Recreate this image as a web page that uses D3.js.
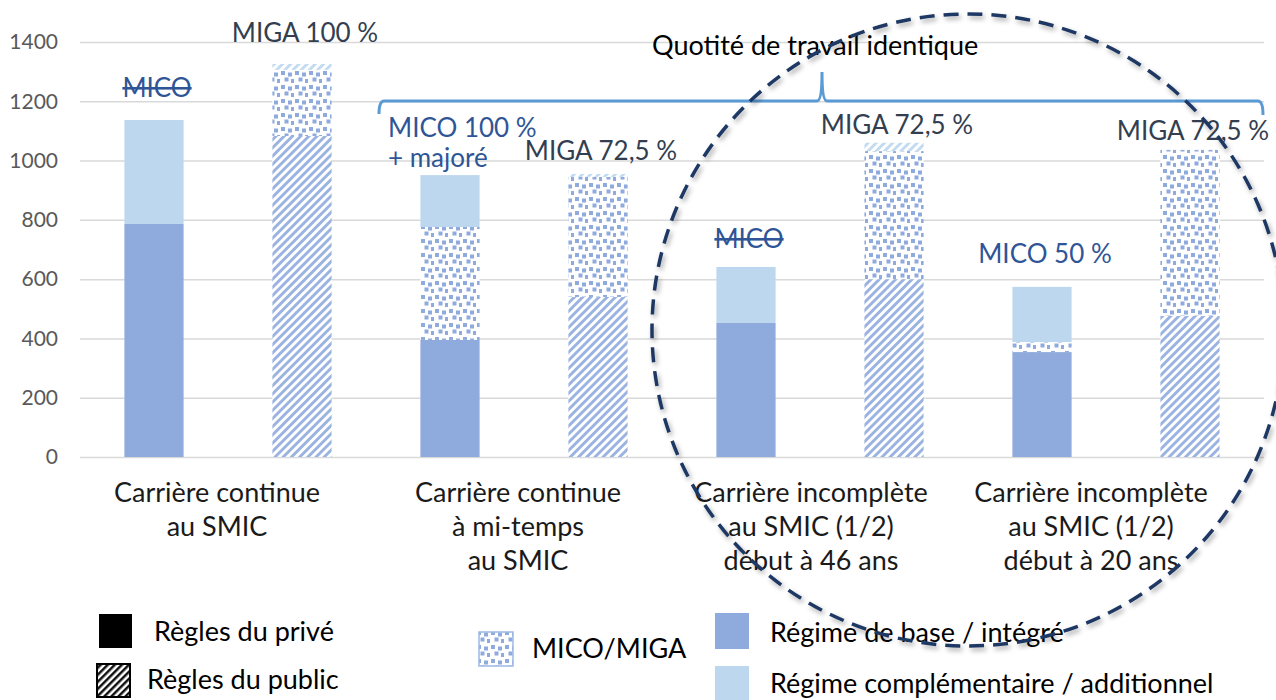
<!DOCTYPE html>
<html>
<head>
<meta charset="utf-8">
<script src="https://cdn.jsdelivr.net/npm/d3@7"></script>
<style>
  html, body { margin: 0; padding: 0; background: #fff; }
  svg { display: block; font-family: Lato, "Open Sans", sans-serif; }
</style>
</head>
<body>
<svg id="chart" width="1276" height="700"></svg>
<script>
// groups on the x axis (one label per pair of bars)
const groups = [
  ["Carrière continue", "au SMIC"],
  ["Carrière continue", "à mi-temps", "au SMIC"],
  ["Carrière incomplète", "au SMIC (1/2)", "début à 46 ans"],
  ["Carrière incomplète", "au SMIC (1/2)", "début à 20 ans"]
];
// one bar per rule set, two per group
const rules = ["privé", "public", "privé", "public", "privé", "public", "privé", "public"];
const baseValues  = [786, 1083, 395, 540, 452, 600, 354, 476];   // régime de base / intégré
const micoValues  = [0, 223, 381, 405, 0, 432, 34, 560];         // MICO / MIGA
const complValues = [351, 20, 175, 10, 189, 28, 186, 0];         // complémentaire / additionnel
const barLabels = ["MICO", "MIGA 100 %", "MICO 100 %|+ majoré", "MIGA 72,5 %", "MICO", "MIGA 72,5 %", "MICO 50 %", "MIGA 72,5 %"];
const struckLabels = [true, false, false, false, true, false, false, false];
const yTicks = [0, 200, 400, 600, 800, 1000, 1200, 1400];

// layout tweaks
const labelLift = [23, 22, 0, 14, 19, 9, 24, 10];
const groupShift = [-11, -6, -9, -25];

const baseBlue = "#8FAADC", lightBlue = "#BDD7EE";
const micoColor = "#2F5597", migaColor = "#333F50";

const svg = d3.select("#chart");
const defs = svg.append("defs");

// diagonal hatch patterns
function hatch(id, color, bg, size) {
  const p = defs.append("pattern")
    .attr("id", id)
    .attr("patternUnits", "userSpaceOnUse")
    .attr("width", size).attr("height", size)
    .attr("patternTransform", "rotate(45)");
  p.append("rect").attr("width", size).attr("height", size).attr("fill", bg);
  p.append("rect").attr("width", size / 2).attr("height", size).attr("fill", color);
}
hatch("hatchBase", "#9AB3E0", "#fff", 5.8);
hatch("hatchLight", "#C3DBF0", "#fff", 5.8);
hatch("hatchBlack", "#111", "#fff", 5);

// confetti-like dots for MICO/MIGA
const dots = defs.append("pattern")
  .attr("id", "dots")
  .attr("patternUnits", "userSpaceOnUse")
  .attr("width", 14).attr("height", 14);
dots.append("rect").attr("width", 14).attr("height", 14).attr("fill", "#fff");
[[1,1],[8,2.5],[4.5,7.5],[11,9]].forEach(d => {
  dots.append("rect").attr("x", d[0]).attr("y", d[1]).attr("width", 4).attr("height", 4).attr("fill", "#8FAADC");
});

const shadow = defs.append("filter").attr("id", "shadow")
  .attr("x", "-10%").attr("y", "-10%").attr("width", "120%").attr("height", "120%");
shadow.append("feDropShadow")
  .attr("dx", 2).attr("dy", 3).attr("stdDeviation", 2.5)
  .attr("flood-color", "#000").attr("flood-opacity", 0.35);

const x = d3.scaleBand()
  .domain(d3.range(rules.length))
  .range([80, 1264])
  .paddingInner(0.6)
  .paddingOuter(0.3);

const y = d3.scaleLinear()
  .domain([0, 1400])
  .range([457, 42]);

// gridlines + tick labels
const yAxis = svg.append("g")
  .attr("transform", "translate(80,0)")
  .call(d3.axisLeft(y).tickValues(yTicks).tickFormat(d3.format("d")).tickSize(-1184).tickPadding(22));
yAxis.select(".domain").remove();
yAxis.selectAll(".tick line").attr("stroke", "#D9D9D9").attr("stroke-width", 1.5);
yAxis.selectAll(".tick text")
  .attr("fill", "#595959")
  .attr("font-size", 21)
  .attr("font-family", "Lato");

// stack the three components
const rows = rules.map((r, i) => ({ i, rule: r, base: baseValues[i], mico: micoValues[i], compl: complValues[i] }));
const stack = d3.stack().keys(["base", "mico", "compl"])(rows);

const fillFor = (key, rule) => {
  if (key === "mico") return "url(#dots)";
  if (rule === "public") return key === "base" ? "url(#hatchBase)" : "url(#hatchLight)";
  return key === "base" ? baseBlue : lightBlue;
};

svg.append("g").selectAll("g")
  .data(stack)
  .enter()
  .append("g")
  .selectAll("rect")
  .data(s => s.map(d => Object.assign({ key: s.key }, d)))
  .enter()
  .append("rect")
  .attr("x", d => x(d.data.i))
  .attr("width", x.bandwidth())
  .attr("y", d => y(d[1]))
  .attr("height", d => y(d[0]) - y(d[1]))
  .attr("fill", d => fillFor(d.key, d.data.rule));

// labels above bars
const tops = rows.map(d => d.base + d.mico + d.compl);
barLabels.forEach((lab, i) => {
  const color = lab.startsWith("MICO") ? micoColor : migaColor;
  const cx = x(i) + x.bandwidth() / 2;
  if (lab.indexOf("|") >= 0) {
    const t = svg.append("text")
      .attr("font-size", 26)
      .attr("fill", color);
    lab.split("|").forEach((p, k) => {
      t.append("tspan").attr("x", 388).attr("y", y(tops[i]) - 38 + k * 30).text(p);
    });
    return;
  }
  svg.append("text")
    .attr("x", cx + 3)
    .attr("y", y(tops[i]) - labelLift[i])
    .attr("text-anchor", "middle")
    .attr("font-size", 26)
    .attr("fill", color)
    .style("text-decoration", struckLabels[i] ? "line-through" : null)
    .text(lab);
});

// category labels
groups.forEach((lines, g) => {
  const cx = (x(2 * g) + x(2 * g + 1) + x.bandwidth()) / 2 + groupShift[g];
  const t = svg.append("text")
    .attr("text-anchor", "middle")
    .attr("font-size", 27)
    .attr("fill", "#1a1a1a");
  lines.forEach((l, k) => {
    t.append("tspan").attr("x", cx).attr("y", 502 + k * 34).text(l);
  });
});

// bracket "Quotité de travail identique"
svg.append("path")
  .attr("d", "M379,114 Q379,101 384,101 L817,101 Q822,101 822,72 Q822,101 827,101 L1258,101 Q1263,101 1263,115")
  .attr("fill", "none")
  .attr("stroke", "#5B9BD5")
  .attr("stroke-width", 3);
svg.append("text")
  .attr("x", 652).attr("y", 55)
  .attr("font-size", 27)
  .attr("fill", "#000")
  .text("Quotité de travail identique");

// legend
const legend = svg.append("g").attr("font-size", 27).attr("fill", "#000");
legend.append("rect").attr("x", 99).attr("y", 614).attr("width", 33).attr("height", 34).attr("fill", "#000");
legend.append("text").attr("x", 154).attr("y", 641).text("Règles du privé");
legend.append("rect").attr("x", 97).attr("y", 664).attr("width", 33).attr("height", 33)
  .attr("fill", "url(#hatchBlack)").attr("stroke", "#000").attr("stroke-width", 2);
legend.append("text").attr("x", 147).attr("y", 689).text("Règles du public");
legend.append("rect").attr("x", 479).attr("y", 632).attr("width", 34).attr("height", 34)
  .attr("fill", "url(#dots)").attr("stroke", "#9DB9E3").attr("stroke-width", 1.5);
legend.append("text").attr("x", 532).attr("y", 658).text("MICO/MIGA");
legend.append("rect").attr("x", 715).attr("y", 613).attr("width", 34).attr("height", 36).attr("fill", baseBlue);
legend.append("text").attr("x", 770).attr("y", 642).text("Régime de base / intégré");
legend.append("rect").attr("x", 715).attr("y", 666).attr("width", 34).attr("height", 36).attr("fill", lightBlue);
legend.append("text").attr("x", 770).attr("y", 693).text("Régime complémentaire / additionnel");

// dashed circle around the incomplete careers
svg.append("ellipse")
  .attr("cx", 968).attr("cy", 330)
  .attr("rx", 316).attr("ry", 316)
  .attr("fill", "none")
  .attr("stroke", "#1F3864")
  .attr("stroke-width", 3.5)
  .attr("stroke-dasharray", "15,9")
  .attr("filter", "url(#shadow)");
</script>
</body>
</html>
